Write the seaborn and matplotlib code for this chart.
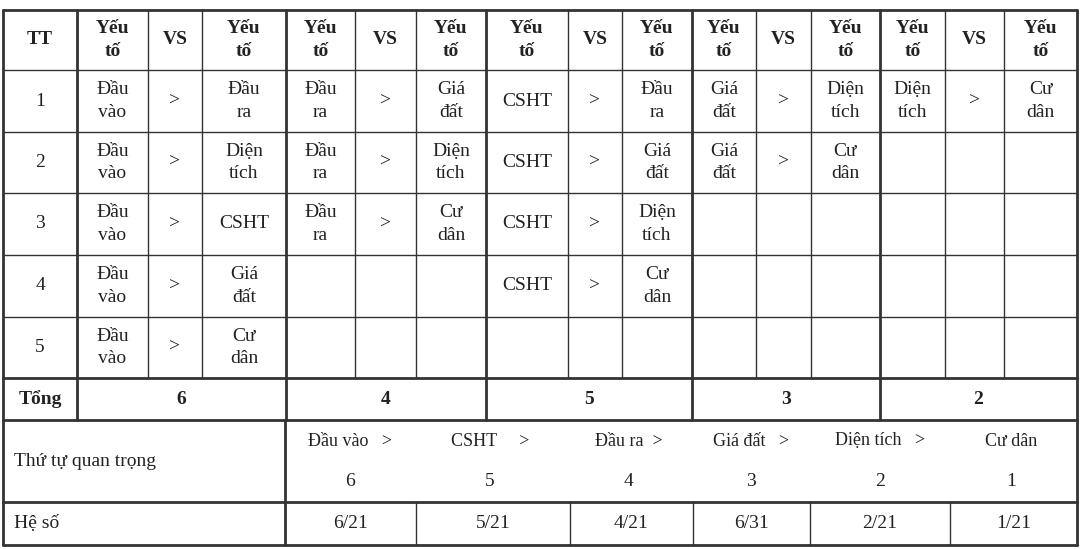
import matplotlib.pyplot as plt
import seaborn as sns

# data of the table
groups_left = ["Đầu\nvào", "Đầu\nra", "CSHT", "Giá\nđất", "Diện\ntích"]
groups_right = [
    ["Đầu\nra", "Diện\ntích", "CSHT", "Giá\nđất", "Cư\ndân"],
    ["Giá\nđất", "Diện\ntích", "Cư\ndân"],
    ["Đầu\nra", "Giá\nđất", "Diện\ntích", "Cư\ndân"],
    ["Diện\ntích", "Cư\ndân"],
    ["Cư\ndân"],
]
row_ids = ["1", "2", "3", "4", "5"]
totals = ["6", "4", "5", "3", "2"]
order_labels = ["Đầu vào   >", "CSHT     >", "Đầu ra  >", "Giá đất   >", "Diện tích   >", "Cư dân"]
order_ranks = ["6", "5", "4", "3", "2", "1"]
coefs = ["6/21", "5/21", "4/21", "6/31", "2/21", "1/21"]

# layout (pixels)
col_x = [3, 77, 148, 202, 286, 355, 416, 486, 568, 622, 692, 756, 811, 880, 945, 1004, 1077]
row_y = [10, 70, 132, 193, 255, 317, 378, 420, 502, 545]
group_edges = [77, 286, 486, 692, 880]
order_x = [350, 490, 629, 751, 880, 1011]
coef_edges = [285, 416, 570, 693, 810, 950, 1077]

sns.set_theme(style="white")
plt.rcParams['font.family'] = ['Liberation Serif', 'DejaVu Serif']

fig = plt.figure(figsize=(10.8, 5.49), dpi=100)
ax = fig.add_axes([0, 0, 1, 1])
ax.set_xlim(0, 1080)
ax.set_ylim(549, 0)
ax.axis('off')

lc = '#333333'
tc = '#222222'
fs = 14
ls = 1.45


def cx(i):
    return (col_x[i] + col_x[i + 1]) / 2


def cy(j):
    return (row_y[j] + row_y[j + 1]) / 2


def put(x, y, s, size=fs, bold=False, ha='center'):
    ax.text(x, y, s, ha=ha, va='center', fontsize=size, color=tc,
            fontweight='bold' if bold else 'normal', linespacing=ls)


# horizontal lines
for j, y in enumerate(row_y):
    lw = 2 if j in (0, 6, 7, 8, 9) else 1
    ax.plot([col_x[0], col_x[-1]], [y, y], color=lc, lw=lw)

# vertical lines
for x in col_x:
    lw = 2 if x in group_edges or x in (col_x[0], col_x[-1]) else 1
    ax.plot([x, x], [row_y[0], row_y[6]], color=lc, lw=lw)
for x in [col_x[0]] + group_edges + [col_x[-1]]:
    ax.plot([x, x], [row_y[6], row_y[7]], color=lc, lw=2)
for x in [col_x[0], 285, col_x[-1]]:
    ax.plot([x, x], [row_y[7], row_y[8]], color=lc, lw=2)
for x in [col_x[0]] + coef_edges:
    lw = 2 if x in (col_x[0], 285, col_x[-1]) else 1
    ax.plot([x, x], [row_y[8], row_y[9]], color=lc, lw=lw)

# header
put(cx(0), cy(0), "TT", bold=True)
for g in range(5):
    base = 1 + 3 * g
    put(cx(base), cy(0), "Yếu\ntố", bold=True)
    put(cx(base + 1), cy(0), "VS", bold=True)
    put(cx(base + 2), cy(0), "Yếu\ntố", bold=True)

# body
for j, rid in enumerate(row_ids):
    put(cx(0), cy(j + 1), rid)
for g, rights in enumerate(groups_right):
    base = 1 + 3 * g
    for j, r in enumerate(rights):
        put(cx(base), cy(j + 1), groups_left[g])
        put(cx(base + 1), cy(j + 1), ">")
        put(cx(base + 2), cy(j + 1), r)

# totals
put(40, cy(6), "Tổng", bold=True)
tot_edges = [77] + group_edges[1:] + [col_x[-1]]
for k, t in enumerate(totals):
    put((tot_edges[k] + tot_edges[k + 1]) / 2, cy(6), t, bold=True)

# order of importance
put(14, cy(7), "Thứ tự quan trọng", ha='left')
for x, lab, rk in zip(order_x, order_labels, order_ranks):
    put(x, 441, lab, size=13)
    put(x, 482, rk)

# coefficients
put(14, cy(8), "Hệ số", ha='left')
for k, c in enumerate(coefs):
    put((coef_edges[k] + coef_edges[k + 1]) / 2, cy(8), c)

fig.savefig("out.png", dpi=100, facecolor='white')
